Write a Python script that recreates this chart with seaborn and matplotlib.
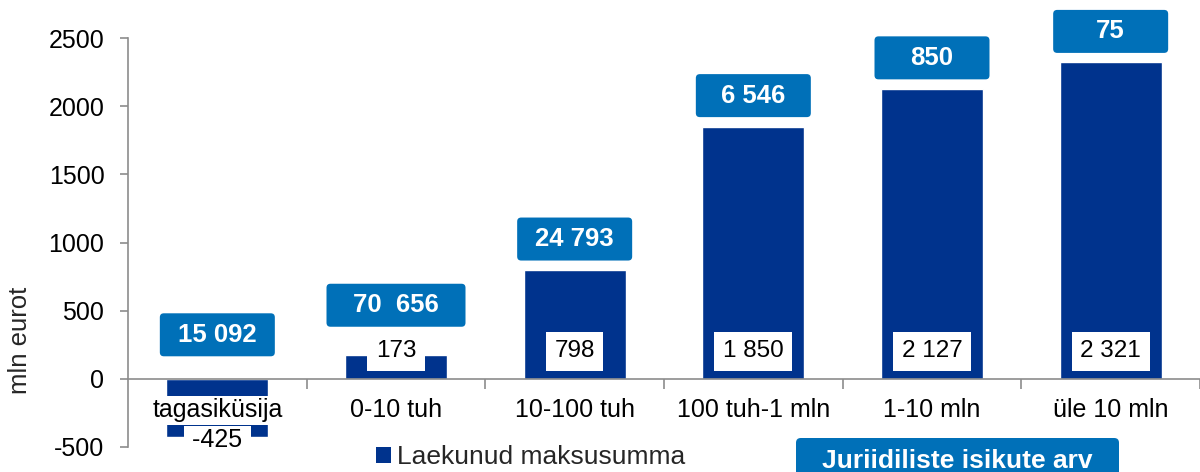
import matplotlib
matplotlib.use("Agg")
import matplotlib.pyplot as plt
import seaborn as sns
import pandas as pd
from matplotlib.patches import FancyBboxPatch, Patch

# data
categories = ["tagasiküsija", "0-10 tuh", "10-100 tuh", "100 tuh-1 mln", "1-10 mln", "üle 10 mln"]
tax_sum = [-425, 173, 798, 1850, 2127, 2321]          # mln eurot
tax_labels = ["-425", "173", "798", "1 850", "2 127", "2 321"]
firm_counts = ["15 092", "70  656", "24 793", "6 546", "850", "75"]

BAR = "#00338d"
BOX = "#0070b8"
GREY = "#8c8c8c"

sns.set_theme(style="white")
plt.rcParams["font.family"] = ["Liberation Sans", "DejaVu Sans"]
plt.rcParams["axes.unicode_minus"] = False

df = pd.DataFrame({"kategooria": categories, "summa": tax_sum})

fig = plt.figure(figsize=(12, 4.72), dpi=100)
ax = fig.add_axes([128 / 1200, 25 / 472, 1072 / 1200, 409 / 472])

sns.barplot(data=df, x="kategooria", y="summa", color=BAR, saturation=1,
            width=0.57, ax=ax, zorder=1)

ax.set_axisbelow(False)
ax.set_xlim(-0.5, 5.5)
ax.set_ylim(-500, 2500)
ax.set_yticks(range(-500, 2501, 500))
ax.set_xlabel("")
ax.set_ylabel("")

for s in ["top", "right"]:
    ax.spines[s].set_visible(False)
ax.spines["bottom"].set_position(("data", 0))
for s in ["left", "bottom"]:
    ax.spines[s].set_color(GREY)
    ax.spines[s].set_linewidth(1.2)

ax.tick_params(axis="y", which="major", left=True, length=6, width=1.2,
               color=GREY, labelsize=18, labelcolor="black", pad=11)
ax.tick_params(axis="x", which="major", bottom=False, length=0,
               labelsize=18, labelcolor="black", pad=14)
ax.set_xticks([i + 0.5 for i in range(6)], minor=True)
ax.tick_params(axis="x", which="minor", bottom=True, length=7, width=1.2,
               color=GREY, direction="out")
for lab in ax.get_xticklabels():
    lab.set_bbox(dict(facecolor="white", edgecolor="none", pad=2))

# px -> data scales
ypx = 3000 / 409
xpx = 6 / 1072

for i, (v, lab, cnt) in enumerate(zip(tax_sum, tax_labels, firm_counts)):
    # value label inside the bar (or below for the negative one)
    if v < 0:
        ax.text(i, -447, f" {lab} ", ha="center", va="center", fontsize=18,
                color="black", zorder=5,
                bbox=dict(facecolor="white", edgecolor="none", pad=1))
        cy = 323
    else:
        ax.text(i, 202, lab, ha="center", va="center", fontsize=17.5,
                color="black", zorder=5,
                bbox=dict(boxstyle="square,pad=0.35", facecolor="white",
                          edgecolor="none"))
        cy = v + 31 * ypx if i != 1 else v + 50 * ypx
    # blue count box above the bar
    w = 115 * xpx if len(cnt) <= 6 else 139 * xpx
    h = 43 * ypx
    ax.add_patch(FancyBboxPatch((i - w / 2, cy - h / 2), w, h,
                                boxstyle=f"round,pad=0,rounding_size={4 * xpx}",
                                mutation_aspect=ypx / xpx, facecolor=BOX,
                                edgecolor="none", zorder=4, clip_on=False))
    ax.text(i, cy, cnt, ha="center", va="center", fontsize=18.5,
            fontweight="bold", color="white", zorder=6)

fig.text(20 / 1200, 1 - 340 / 472, "mln eurot", rotation=90, ha="center",
         va="center", fontsize=18.5)

# legend
ax.legend(handles=[Patch(facecolor=BAR, edgecolor="none")],
          labels=["Laekunud maksusumma"], loc="center left",
          bbox_to_anchor=(376 / 1200, 1 - 457 / 472),
          bbox_transform=fig.transFigure, frameon=False, fontsize=19,
          handlelength=0.55, handleheight=0.55, handletextpad=0.25,
          borderpad=0, borderaxespad=0)

# second legend entry as a blue box
fig.add_artist(FancyBboxPatch((796 / 1200, -0.05), 323 / 1200, (472 - 438) / 472 + 0.05,
                              boxstyle="round,pad=0,rounding_size=0.004",
                              mutation_aspect=1200 / 472, facecolor=BOX,
                              edgecolor="none", transform=fig.transFigure))
fig.text(957 / 1200, 1 - 461 / 472, "Juriidiliste isikute arv", ha="center",
         va="center", fontsize=19, fontweight="bold", color="white")

fig.savefig("out.png", dpi=100)
